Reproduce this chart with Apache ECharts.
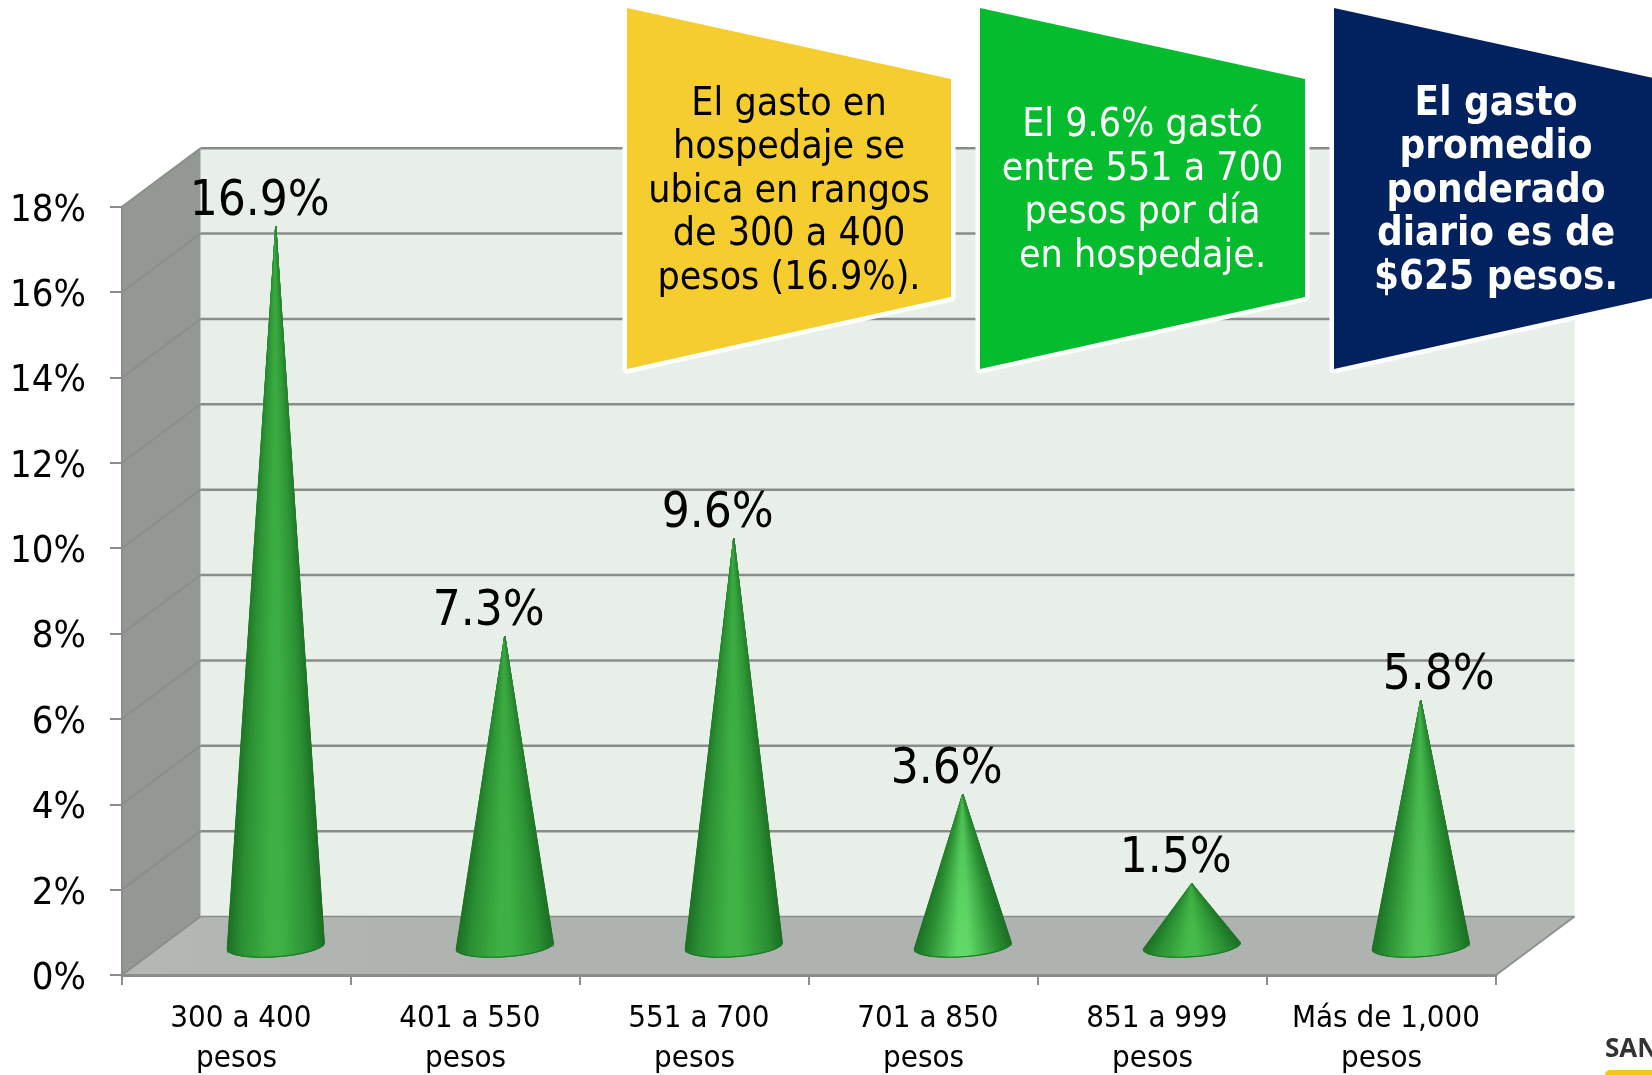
<!DOCTYPE html>
<html lang="es">
<head>
<meta charset="utf-8">
<title>Gasto en hospedaje</title>
<script src="https://cdn.jsdelivr.net/npm/echarts@6/dist/echarts.min.js"></script>
<style>html,body{margin:0;padding:0;background:#fff;overflow:hidden}#c{width:1652px;height:1075px}</style>
</head>
<body>
<div id="c"></div>
<script>
const categories = ['300 a 400\npesos','401 a 550\npesos','551 a 700\npesos','701 a 850\npesos','851 a 999\npesos','Más de 1,000\npesos'];
const values = [16.9, 7.3, 9.6, 3.6, 1.5, 5.8];
const yTicks = [0, 2, 4, 6, 8, 10, 12, 14, 16, 18];
const noteYellow = 'El gasto en\nhospedaje se\nubica en rangos\nde 300 a 400\npesos (16.9%).';
const noteGreen = 'El 9.6% gastó\nentre 551 a 700\npesos por día\nen hospedaje.';
const noteNavy = 'El gasto\npromedio\nponderado\ndiario es de\n$625 pesos.';

const FONT = '"DejaVu Sans Condensed","DejaVu Sans",sans-serif';
const DEPTH_X = 78.5, DEPTH_Y = 58.5;
const highlights = ['#3fb144', '#3fb144', '#41b346', '#62da69', '#47bc4c', '#52c457'];
const labelShift = [-16, -16, -16, -16, -16, 18];

function hex(c) { return [1, 3, 5].map(i => parseInt(c.substr(i, 2), 16)); }
function lerp(a, b, t) { return a.map((v, i) => v + (b[i] - v) * t); }
function css(a) { return 'rgb(' + a.map(Math.round).join(',') + ')'; }

function renderWall(params, api) {
  const band = api.size([1, 0])[0];
  const v = api.value(1);
  const p = api.coord([0, v]);
  const left = p[0] - band / 2;
  const right = left + band * categories.length;
  const kids = [];
  if (params.dataIndex === 0) {
    const top = api.coord([0, yTicks[yTicks.length - 1]])[1];
    const bot = p[1];
    kids.push({ type: 'polygon', shape: { points: [[left + DEPTH_X, top - DEPTH_Y], [right + DEPTH_X, top - DEPTH_Y], [right + DEPTH_X, bot - DEPTH_Y], [left + DEPTH_X, bot - DEPTH_Y]] }, style: { fill: '#e8efe9' } });
    kids.push({ type: 'polygon', shape: { points: [[left, top], [left + DEPTH_X, top - DEPTH_Y], [left + DEPTH_X, bot - DEPTH_Y], [left, bot]] }, style: { fill: '#939892' } });
    kids.push({ type: 'polygon', shape: { points: [[left, bot], [left + DEPTH_X, bot - DEPTH_Y], [right + DEPTH_X, bot - DEPTH_Y], [right, bot]] },
      style: { fill: { type: 'linear', x: 0, y: 0, x2: 1, y2: 0, colorStops: [{ offset: 0, color: '#b4b8b5' }, { offset: 0.25, color: '#afb3b0' }, { offset: 1, color: '#afb3b0' }] } } });
    kids.push({ type: 'line', shape: { x1: right, y1: bot, x2: right + DEPTH_X, y2: bot - DEPTH_Y }, style: { stroke: '#8e918e', lineWidth: 2 } });
  }
  const y = p[1];
  kids.push({ type: 'line', shape: { x1: left, y1: y, x2: left + DEPTH_X, y2: y - DEPTH_Y }, style: { stroke: '#8b8e8a', lineWidth: 2 } });
  kids.push({ type: 'line', shape: { x1: left + DEPTH_X, y1: y - DEPTH_Y, x2: right + DEPTH_X, y2: y - DEPTH_Y }, style: { stroke: '#8a8c8a', lineWidth: v === 0 ? 1.5 : 2.5 } });
  return { type: 'group', children: kids };
}

function renderCone(params, api) {
  const front = api.coord([api.value(0), 0]);
  const tip = api.coord([api.value(0), api.value(1)]);
  const band = api.size([1, 0])[0];
  const rx = band * 0.212, ry = 11, tilt = -4 * Math.PI / 180;
  const cx = front[0] + DEPTH_X / 2, cy = front[1] - DEPTH_Y / 2;
  const ax = tip[0] + DEPTH_X / 2, ay = tip[1] - DEPTH_Y / 2 + 2;
  const N = 48, kids = [];
  const pt = th => {
    const ex = rx * Math.cos(th), ey = ry * Math.sin(th);
    return [cx + ex * Math.cos(tilt) - ey * Math.sin(tilt), cy + ex * Math.sin(tilt) + ey * Math.cos(tilt)];
  };
  const hi = hex(highlights[params.dataIndex]), mid = hex('#2a8f32'), edge = hex('#1c6f25'), tipTone = hex('#339f3a');
  const shade = t => {
    const a = Math.abs(t);
    if (a < 0.12) return hi;
    if (a < 0.72) return lerp(hi, mid, (a - 0.12) / 0.6);
    return lerp(mid, edge, (a - 0.72) / 0.28);
  };
  for (let i = 0; i < N; i++) {
    const t0 = Math.PI - Math.PI * i / N, t1 = Math.PI - Math.PI * (i + 1) / N;
    const a = pt(t0), b = pt(t1);
    const col = shade((Math.cos(t0) + Math.cos(t1)) / 2);
    const fill = { type: 'linear', x: 0, y: 0, x2: 0, y2: 1, colorStops: [{ offset: 0, color: css(lerp(col, tipTone, 0.55)) }, { offset: 0.6, color: css(lerp(col, tipTone, 0.15)) }, { offset: 1, color: css(col) }] };
    kids.push({ type: 'polygon', shape: { points: [[ax, ay], a, b] }, style: { fill: fill, stroke: fill, lineWidth: 1.2 } });
  }
  const arc = [];
  for (let i = 0; i <= N; i++) arc.push(pt(Math.PI - Math.PI * i / N));
  kids.push({ type: 'polyline', shape: { points: arc }, style: { fill: null, stroke: '#1c7a26', lineWidth: 1.2 } });
  kids.push({ type: 'text', x: ax + labelShift[params.dataIndex], y: ay - 24, style: { text: values[params.dataIndex].toFixed(1) + '%', font: '49px ' + FONT, fill: '#000', align: 'center', verticalAlign: 'middle' } });
  return { type: 'group', children: kids };
}

function callout(x0, x1, fill, text, color, weight, size) {
  const pts = [[x0, 8], [x1, 79], [x1, 297], [x0, 369]];
  const mid = (x0 + x1) / 2;
  return [
    { type: 'polygon', z: 20, shape: { points: pts }, style: { fill: '#fff', stroke: '#fff', lineWidth: 9, lineJoin: 'round' } },
    { type: 'polygon', z: 21, shape: { points: pts }, style: { fill: fill } },
    { type: 'text', z: 22, x: mid, y: 191.5, style: { text: text, font: weight + ' ' + size + 'px ' + FONT, fill: color, align: 'center', verticalAlign: 'middle', lineHeight: 43.5 } }
  ];
}

const chart = echarts.init(document.getElementById('c'), null, { renderer: 'canvas' });
chart.setOption({
  animation: false,
  backgroundColor: '#ffffff',
  grid: { left: 122, right: 156, top: 206.7, bottom: 100, containLabel: false, outerBoundsMode: 'none' },
  xAxis: {
    type: 'category', data: categories, z: 6,
    axisLine: { lineStyle: { color: '#8c8c8c', width: 3 } },
    axisTick: { show: true, length: 10, lineStyle: { color: '#8c8c8c', width: 2 } },
    axisLabel: { interval: 0, color: '#000', fontSize: 31, fontFamily: FONT, lineHeight: 40, margin: 24, formatter: v => '\u00a0' + v }
  },
  yAxis: {
    type: 'value', min: 0, max: 18, interval: 2, z: 6,
    axisLine: { show: true, lineStyle: { color: '#8c8c8c', width: 2 } },
    axisTick: { show: true, length: 12, lineStyle: { color: '#8c8c8c', width: 2 } },
    splitLine: { show: false },
    axisLabel: { color: '#000', fontSize: 38, fontFamily: FONT, margin: 36, verticalAlign: 'top', lineHeight: 8, formatter: '{value}%' }
  },
  series: [
    { type: 'custom', name: 'Paredes', z: 1, silent: true, clip: false, renderItem: renderWall, data: yTicks.map(t => [0, t]), encode: { x: 0, y: 1 } },
    { type: 'custom', name: 'Gasto', z: 3, silent: true, clip: false, renderItem: renderCone, data: values.map((v, i) => [i, v]), encode: { x: 0, y: 1 } }
  ],
  graphic: { elements: [
    ...callout(627, 951, '#f5cd2f', noteYellow, '#000000', 'normal', 39),
    ...callout(980, 1305, '#05bc2f', noteGreen, '#ffffff', 'normal', 39),
    ...callout(1334, 1658, '#02225f', noteNavy, '#ffffff', 'bold', 40),
    { type: 'text', z: 22, x: 1605, y: 1037, style: { text: 'SAN', font: 'bold 26px "Open Sans",sans-serif', fill: '#333333' } },
    { type: 'rect', z: 22, shape: { x: 1605, y: 1070, width: 60, height: 20, r: 5 }, style: { fill: '#f5c518' } }
  ] }
});
</script>
</body>
</html>
